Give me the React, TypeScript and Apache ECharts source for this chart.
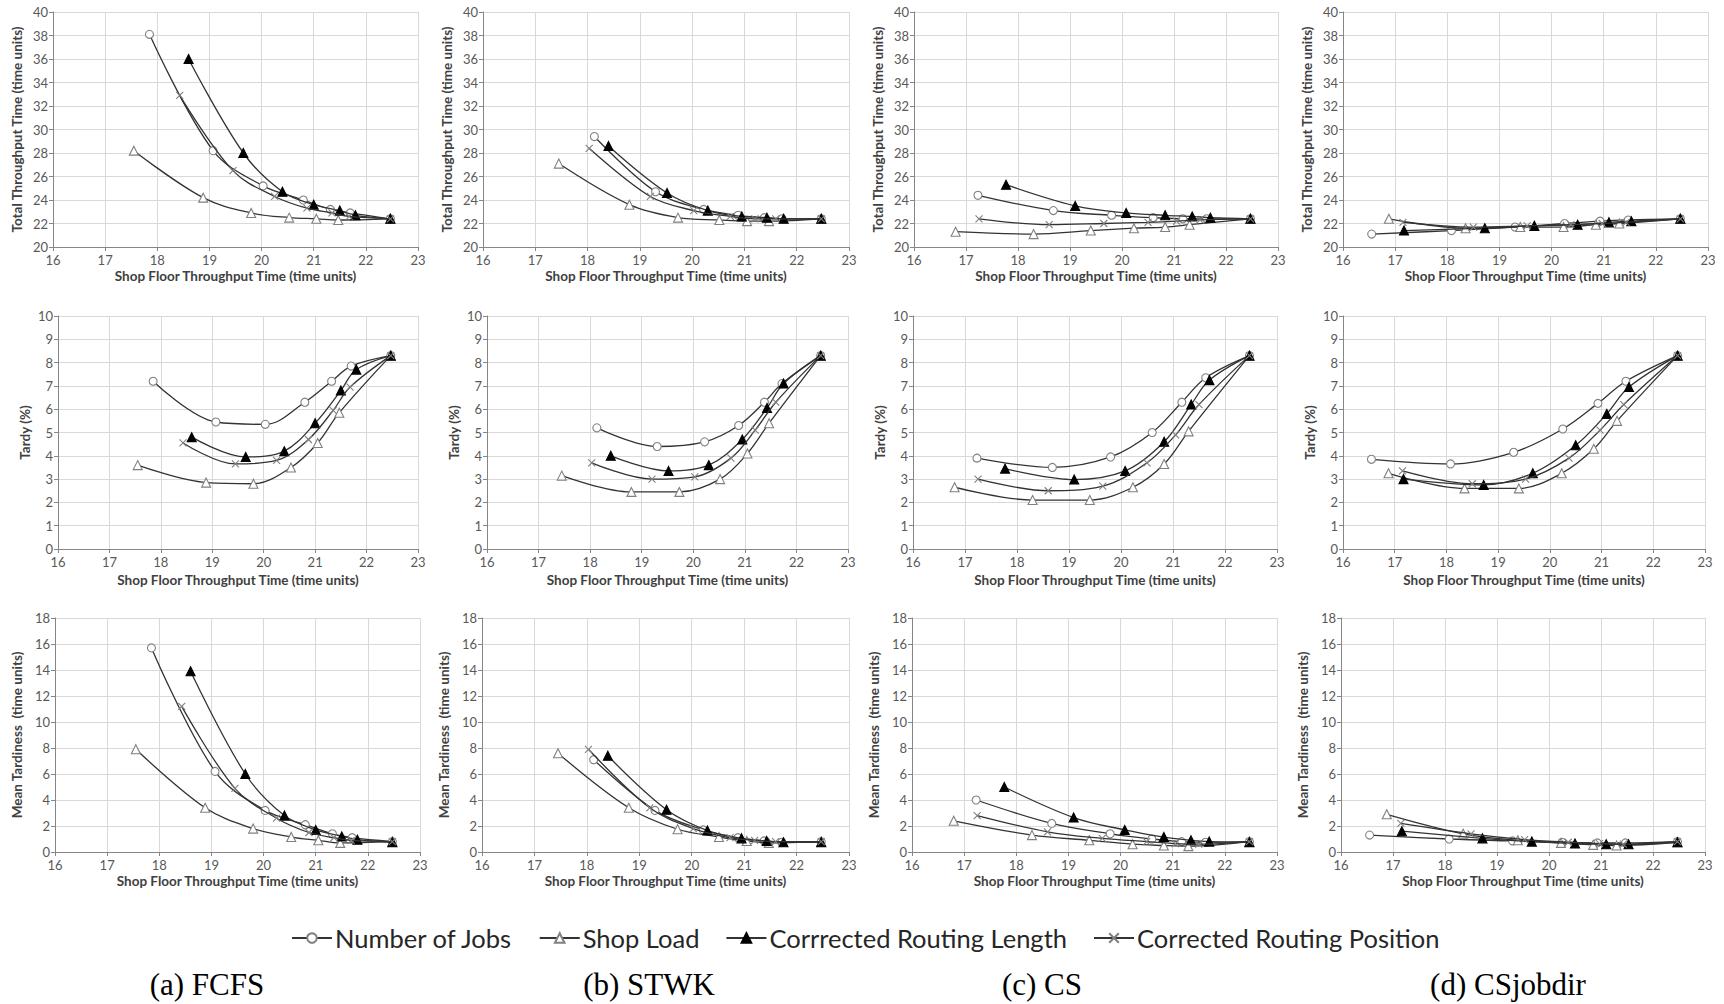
import React, { useEffect, useRef } from "react";
import * as echarts from "echarts";

// ---------- data ----------
const SERIES_NAMES = [
  "Number of Jobs",
  "Shop Load",
  "Corrrected Routing Length",
  "Corrected Routing Position",
];
const RULE_LABELS = ["(a) FCFS", "(b) STWK", "(c) CS", "(d) CSjobdir"];
const X_AXIS_TITLE = "Shop Floor Throughput Time (time units)";
const Y_AXIS_TITLES = ["Total Throughput Time (time units)", "Tardy (%)", "Mean Tardiness  (time units)"];
const Y_RANGES = [
  { min: 20, max: 40, interval: 2 },
  { min: 0, max: 10, interval: 1 },
  { min: 0, max: 18, interval: 2 },
];
const X_RANGE = { min: 16, max: 23, interval: 1 };

// order inside each: Number of Jobs, Shop Load, Corrected Routing Length, Corrected Routing Position
const fcfsX = [
  [17.85, 19.07, 20.03, 20.8, 21.32, 21.7, 22.47],
  [17.55, 18.88, 19.8, 20.53, 21.05, 21.47, 22.47],
  [18.6, 19.65, 20.4, 21.0, 21.5, 21.8, 22.47],
  [18.43, 19.45, 20.25, 20.87, 21.35, 21.68, 22.47],
];
const fcfsTTT = [
  [38.1, 28.2, 25.2, 24.0, 23.2, 22.9, 22.4],
  [28.2, 24.2, 22.9, 22.5, 22.4, 22.3, 22.4],
  [36.0, 28.0, 24.7, 23.6, 23.1, 22.7, 22.4],
  [32.9, 26.5, 24.3, 23.3, 22.9, 22.6, 22.4],
];
const fcfsTardy = [
  [7.2, 5.45, 5.35, 6.3, 7.2, 7.85, 8.3],
  [3.6, 2.85, 2.8, 3.5, 4.55, 5.85, 8.3],
  [4.8, 3.95, 4.2, 5.4, 6.8, 7.7, 8.3],
  [4.55, 3.65, 3.8, 4.7, 5.95, 6.95, 8.3],
];
const fcfsMT = [
  [15.7, 6.2, 3.2, 2.1, 1.4, 1.1, 0.8],
  [7.9, 3.4, 1.8, 1.15, 0.9, 0.7, 0.8],
  [13.9, 6.0, 2.8, 1.7, 1.2, 0.95, 0.75],
  [11.2, 4.9, 2.6, 1.5, 1.1, 0.9, 0.8],
];

const stwkX = [
  [18.13, 19.3, 20.22, 20.88, 21.38, 21.72, 22.47],
  [17.45, 18.8, 19.73, 20.52, 21.05, 21.47, 22.47],
  [18.4, 19.52, 20.3, 20.95, 21.43, 21.75, 22.47],
  [18.03, 19.2, 20.03, 20.73, 21.2, 21.6, 22.47],
];
const stwkTTT = [
  [29.4, 24.7, 23.2, 22.7, 22.5, 22.4, 22.4],
  [27.1, 23.6, 22.5, 22.3, 22.2, 22.2, 22.4],
  [28.6, 24.6, 23.1, 22.6, 22.5, 22.4, 22.4],
  [28.4, 24.3, 23.1, 22.6, 22.4, 22.4, 22.4],
];
const stwkTardy = [
  [5.2, 4.4, 4.6, 5.3, 6.3, 7.1, 8.3],
  [3.15, 2.45, 2.45, 3.0, 4.1, 5.4, 8.3],
  [4.0, 3.35, 3.6, 4.7, 6.05, 7.1, 8.3],
  [3.7, 3.0, 3.1, 3.9, 5.1, 6.3, 8.3],
];
const stwkMT = [
  [7.1, 3.2, 1.7, 1.1, 0.85, 0.75, 0.8],
  [7.6, 3.4, 1.75, 1.15, 0.85, 0.7, 0.8],
  [7.4, 3.25, 1.65, 1.05, 0.85, 0.75, 0.75],
  [7.9, 3.4, 1.8, 1.1, 0.9, 0.8, 0.8],
];

const csX = [
  [17.23, 18.68, 19.8, 20.6, 21.17, 21.63, 22.47],
  [16.8, 18.3, 19.4, 20.23, 20.83, 21.3, 22.47],
  [17.77, 19.1, 20.08, 20.83, 21.35, 21.7, 22.47],
  [17.25, 18.6, 19.65, 20.5, 21.05, 21.5, 22.47],
];
const csTTT = [
  [24.4, 23.1, 22.7, 22.5, 22.4, 22.4, 22.4],
  [21.3, 21.1, 21.4, 21.6, 21.7, 21.9, 22.4],
  [25.3, 23.5, 22.9, 22.7, 22.6, 22.5, 22.4],
  [22.4, 21.9, 22.0, 22.1, 22.2, 22.3, 22.4],
];
const csTardy = [
  [3.9, 3.5, 3.95, 5.0, 6.3, 7.35, 8.3],
  [2.65, 2.1, 2.1, 2.65, 3.65, 5.05, 8.3],
  [3.45, 2.98, 3.35, 4.6, 6.2, 7.25, 8.3],
  [3.0, 2.5, 2.7, 3.7, 4.9, 6.2, 8.3],
];
const csMT = [
  [4.0, 2.2, 1.4, 1.0, 0.8, 0.75, 0.8],
  [2.4, 1.3, 0.9, 0.6, 0.5, 0.45, 0.8],
  [5.0, 2.65, 1.7, 1.15, 0.9, 0.8, 0.75],
  [2.8, 1.55, 1.05, 0.8, 0.65, 0.6, 0.8],
];

const csjdX = [
  [16.55, 18.08, 19.3, 20.25, 20.93, 21.47, 22.47],
  [16.88, 18.35, 19.4, 20.23, 20.85, 21.3, 22.47],
  [17.17, 18.72, 19.67, 20.5, 21.1, 21.53, 22.47],
  [17.15, 18.5, 19.53, 20.37, 20.97, 21.43, 22.47],
];
const csjdTTT = [
  [21.1, 21.4, 21.7, 22.0, 22.2, 22.3, 22.4],
  [22.4, 21.6, 21.7, 21.7, 21.9, 22.0, 22.4],
  [21.4, 21.6, 21.8, 21.9, 22.1, 22.2, 22.4],
  [22.1, 21.7, 21.8, 21.9, 22.0, 22.1, 22.4],
];
const csjdTardy = [
  [3.85, 3.65, 4.15, 5.15, 6.25, 7.2, 8.3],
  [3.25, 2.6, 2.6, 3.25, 4.3, 5.5, 8.3],
  [3.0, 2.75, 3.25, 4.45, 5.8, 6.95, 8.3],
  [3.35, 2.8, 3.0, 3.9, 5.1, 6.2, 8.3],
];
const csjdMT = [
  [1.3, 1.0, 0.85, 0.75, 0.7, 0.7, 0.8],
  [2.9, 1.4, 0.9, 0.7, 0.55, 0.5, 0.75],
  [1.6, 1.05, 0.8, 0.65, 0.6, 0.6, 0.75],
  [2.2, 1.4, 0.95, 0.75, 0.65, 0.6, 0.8],
];

const RULE_X = [fcfsX, stwkX, csX, csjdX];
const RULE_Y = [
  [fcfsTTT, fcfsTardy, fcfsMT],
  [stwkTTT, stwkTardy, stwkMT],
  [csTTT, csTardy, csMT],
  [csjdTTT, csjdTardy, csjdMT],
];

// ---------- layout ----------
const GRID_TOP = [12, 316, 618];
const GRID_HEIGHT = [235, 233, 234];
const GRID_LEFT = [
  [53, 483, 914, 1343],
  [58, 487, 913, 1343],
  [55, 482, 912, 1341],
];
const GRID_WIDTH = [
  [365, 366, 364, 365],
  [360, 361, 364, 362],
  [365, 367, 365, 364],
];
const Y_NAME_GAP = [29, 26, 31];
const X_NAME_GAP = [22, 24, 22];
const CAPTION_X = [207, 649, 1042, 1508];

const FONT = "Lato, 'Open Sans', sans-serif";
const X_SYMBOL = "path://M0,0L10,10M10,0L0,10";

const SERIES_STYLE = [
  { symbol: "circle", size: 8, fill: "#ffffff", border: "#808080" },
  { symbol: "triangle", size: 9, fill: "#ffffff", border: "#808080" },
  { symbol: "triangle", size: 9, fill: "#000000", border: "#000000" },
  { symbol: X_SYMBOL, size: 7, fill: "transparent", border: "#808080" },
];

export default function App() {
  const ref = useRef<HTMLDivElement>(null);

  useEffect(() => {
    if (!ref.current) return;
    const chart = echarts.init(ref.current, undefined, { renderer: "svg" });

    const grids: any[] = [];
    const xAxes: any[] = [];
    const yAxes: any[] = [];
    const series: any[] = [];

    for (let r = 0; r < 3; r++) {
      for (let c = 0; c < 4; c++) {
        const idx = r * 4 + c;
        grids.push({
          left: GRID_LEFT[r][c],
          top: GRID_TOP[r],
          width: GRID_WIDTH[r][c],
          height: GRID_HEIGHT[r],
          containLabel: false,
        });
        xAxes.push({
          type: "value",
          gridIndex: idx,
          min: X_RANGE.min,
          max: X_RANGE.max,
          interval: X_RANGE.interval,
          name: X_AXIS_TITLE,
          nameLocation: "middle",
          nameGap: X_NAME_GAP[r],
          nameTextStyle: { fontFamily: FONT, fontSize: 13.5, fontWeight: "bold", color: "#404040" },
          axisLine: { show: true, onZero: false, lineStyle: { color: "#868686", width: 1 } },
          axisTick: { show: true, length: 4, lineStyle: { color: "#868686" } },
          axisLabel: { fontFamily: FONT, fontSize: 13, color: "#595959", margin: 6 },
          splitLine: { show: true, lineStyle: { color: "#d9d9d9", width: 1 } },
        });
        yAxes.push({
          type: "value",
          gridIndex: idx,
          min: Y_RANGES[r].min,
          max: Y_RANGES[r].max,
          interval: Y_RANGES[r].interval,
          name: Y_AXIS_TITLES[r],
          nameLocation: "middle",
          nameGap: Y_NAME_GAP[r],
          nameTextStyle: { fontFamily: FONT, fontSize: 13.5, fontWeight: "bold", color: "#404040" },
          axisLine: { show: true, lineStyle: { color: "#868686", width: 1 } },
          axisTick: { show: true, length: 4, lineStyle: { color: "#868686" } },
          axisLabel: { fontFamily: FONT, fontSize: 13, color: "#595959", margin: 5 },
          splitLine: { show: true, lineStyle: { color: "#d9d9d9", width: 1 } },
        });
        for (let s = 0; s < 4; s++) {
          const xs = RULE_X[c][s];
          const ys = RULE_Y[c][r][s];
          const st = SERIES_STYLE[s];
          series.push({
            type: "line",
            name: SERIES_NAMES[s],
            xAxisIndex: idx,
            yAxisIndex: idx,
            data: xs.map((x, i) => [x, ys[i]]),
            smooth: 0.35,
            symbol: st.symbol,
            symbolSize: st.size,
            showAllSymbol: true,
            lineStyle: { color: "#333333", width: 1.3 },
            itemStyle: { color: st.fill, borderColor: st.border, borderWidth: 1.1 },
            emphasis: { disabled: true },
            z: 2 + s,
          });
        }
      }
    }

    const graphics = RULE_LABELS.map((t, i) => ({
      type: "text",
      x: CAPTION_X[i],
      y: 984,
      style: {
        text: t,
        align: "center",
        verticalAlign: "middle",
        textAlign: "center",
        textVerticalAlign: "middle",
        fontFamily: "'Liberation Serif', 'Times New Roman', serif",
        fontSize: 31,
        fill: "#000000",
      },
    }));

    chart.setOption({
      animation: false,
      backgroundColor: "#ffffff",
      grid: grids,
      xAxis: xAxes,
      yAxis: yAxes,
      series,
      legend: {
        data: SERIES_NAMES.map((n) => ({ name: n })),
        left: 286,
        top: 920,
        itemWidth: 40,
        itemHeight: 12,
        itemGap: 26,
        textStyle: { fontFamily: FONT, fontSize: 25.5, color: "#262626", padding: [0, 0, 0, -2] },
        selectedMode: false,
      },
      graphic: graphics,
    });

    return () => chart.dispose();
  }, []);

  return (
    <div
      ref={ref}
      style={{ position: "fixed", left: 0, top: 0, width: 1724, height: 1004, background: "#fff" }}
    />
  );
}
